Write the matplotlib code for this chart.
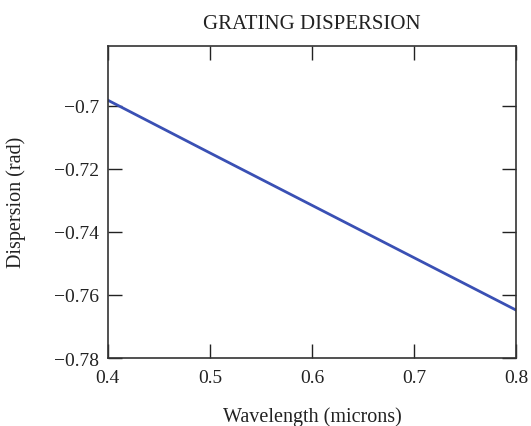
import matplotlib
matplotlib.use("Agg")
import matplotlib.pyplot as plt
from matplotlib.ticker import FixedLocator, FuncFormatter

wavelength = [0.4, 0.5, 0.6, 0.7, 0.8]
dispersion = [-0.6983, -0.7150, -0.7316, -0.7482, -0.7648]
xticks = [0.4, 0.5, 0.6, 0.7, 0.8]
yticks = [-0.78, -0.76, -0.74, -0.72, -0.70]

plt.rcParams['font.family'] = ['Liberation Serif', 'DejaVu Serif']
plt.rcParams['axes.unicode_minus'] = True

fmt = FuncFormatter(lambda v, p: ('%g' % v).replace('-', '\u2212'))

fig = plt.figure(figsize=(5.31, 4.27), dpi=100)
ax = fig.add_axes([0.203, 0.159, 0.769, 0.732])
ax.plot(wavelength, dispersion, color='#3a50b4', lw=2.0)
ax.set_xlim(0.4, 0.8)
ax.set_ylim(-0.78, -0.681)
ax.xaxis.set_major_locator(FixedLocator(xticks))
ax.yaxis.set_major_locator(FixedLocator(yticks))
ax.xaxis.set_major_formatter(fmt)
ax.yaxis.set_major_formatter(fmt)
ax.tick_params(direction='in', length=10, width=1.0, top=True, right=True,
               labelsize=14, colors='#222222')
ax.tick_params(axis='x', pad=8)
ax.tick_params(axis='y', pad=6)
for s in ax.spines.values():
    s.set_linewidth(1.2)
    s.set_color('#333333')
ax.set_title('GRATING DISPERSION', fontsize=15, pad=12.5, color='#222222')
ax.set_xlabel('Wavelength (microns)', fontsize=14.5, color='#222222')
ax.set_ylabel('Dispersion (rad)', fontsize=14.5, color='#222222')
ax.xaxis.set_label_coords(0.5, -0.155)
ax.yaxis.set_label_coords(-0.2, 0.5)
fig.savefig('out.png', dpi=100)
